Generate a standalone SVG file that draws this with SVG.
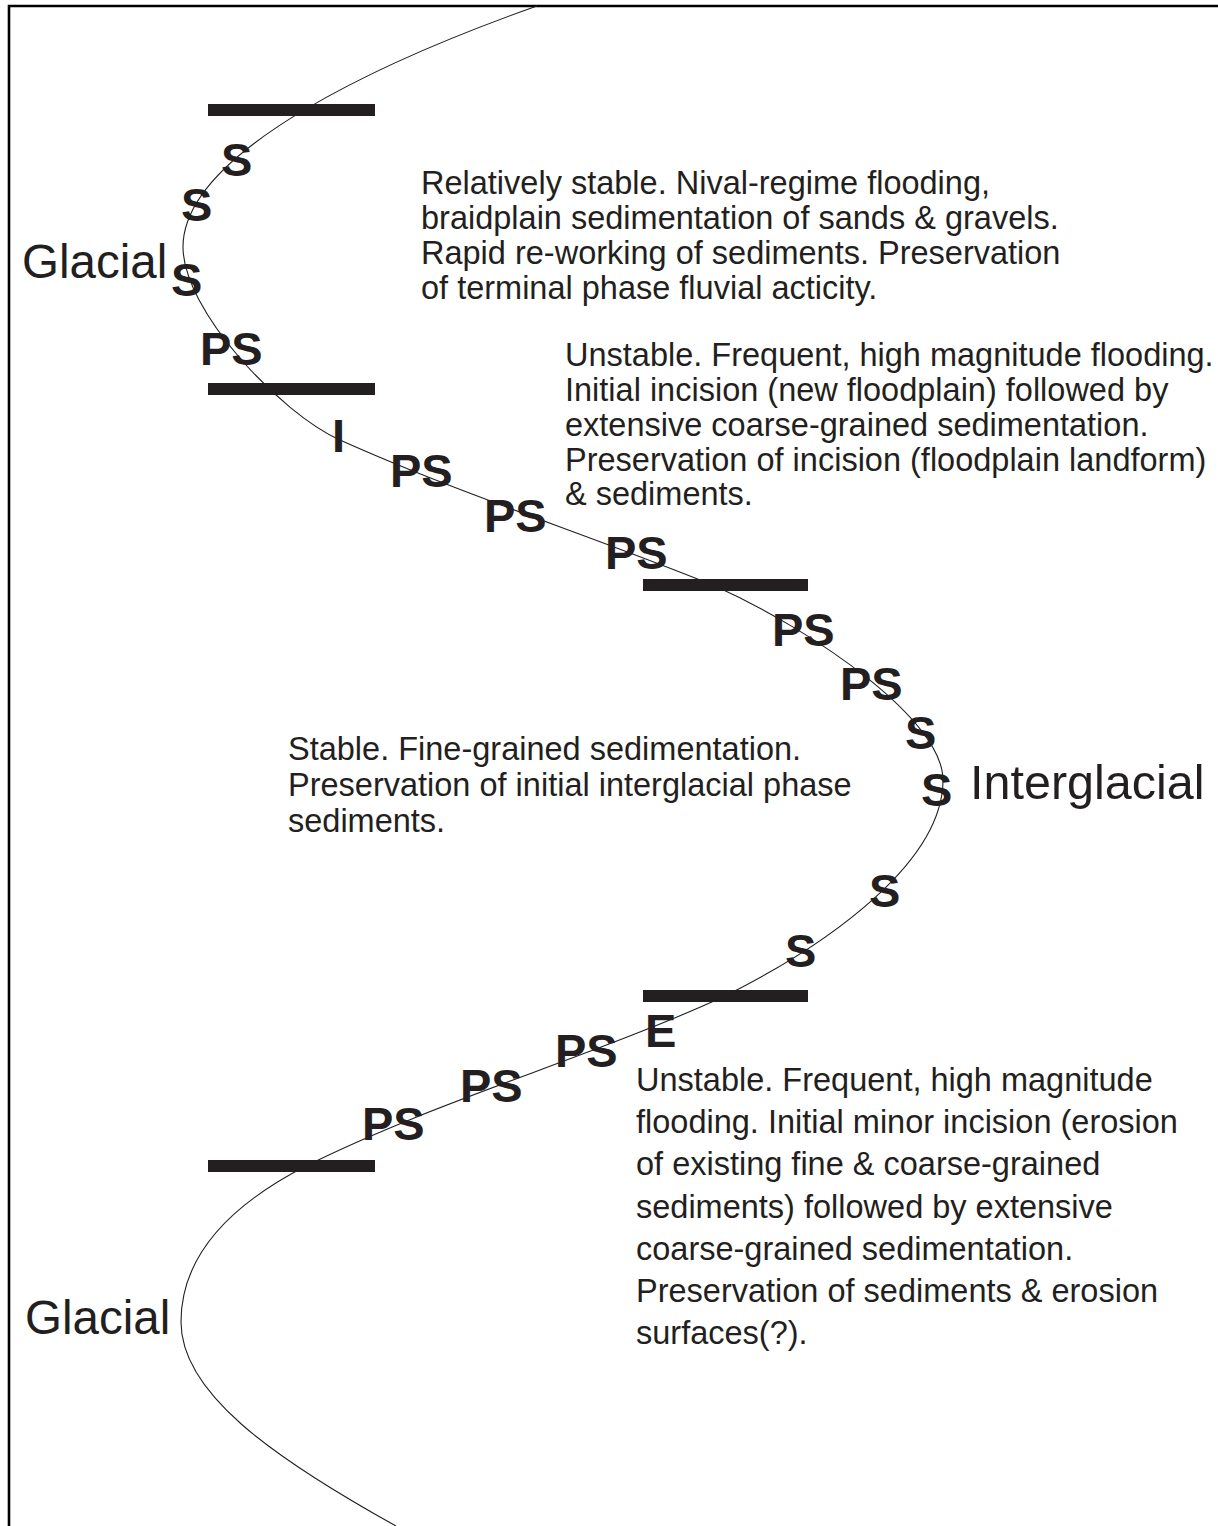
<svg xmlns="http://www.w3.org/2000/svg" width="1218" height="1526" viewBox="0 0 1218 1526">
<style>
.body{font-family:"Liberation Sans",Arial,sans-serif;font-size:32.5px;fill:#231f20}
.big{font-family:"Liberation Sans",Arial,sans-serif;font-size:47.5px;fill:#231f20}
.lab{font-family:"Liberation Sans",Arial,sans-serif;font-size:47px;font-weight:bold;fill:#231f20}
.bar{fill:#231f20}
</style>
<rect width="1218" height="1526" fill="#ffffff"/>
<path id="frame" d="M9,1526 V6 H1218" fill="none" stroke="#000" stroke-width="2.6"/>
<g id="connectors">
<path id="curve" d="M537,6 C390,58 183,150 183,247 C183,310 280,413 340,440 C460,494 595,537 715,586 C815,631 943,720 943,780 C943,860 835,941 725,996 C595,1056 436,1101 306,1166 C236,1202 181,1252 181,1322 C181,1392 270,1456 396,1526" fill="none" stroke="#231f20" stroke-width="1.1"/>
</g>
<g id="boundaries">
<rect class="bar" x="208" y="104" width="167" height="12"/>
<rect class="bar" x="208" y="383" width="167" height="12"/>
<rect class="bar" x="643" y="579" width="165" height="12"/>
<rect class="bar" x="643" y="990" width="165" height="12"/>
<rect class="bar" x="208" y="1160" width="167" height="12"/>
</g>
<g id="phases">
<text class="big" x="22" y="278">Glacial</text>
<text class="big" x="970" y="799" style="font-size:48.5px">Interglacial</text>
<text class="big" x="25" y="1334">Glacial</text>
</g>
<g id="labels">
<text class="lab" x="221" y="176">S</text>
<text class="lab" x="181" y="221">S</text>
<text class="lab" x="171" y="296">S</text>
<text class="lab" x="200" y="365">PS</text>
<text class="lab" x="332" y="452">I</text>
<text class="lab" x="390" y="487">PS</text>
<text class="lab" x="484" y="532">PS</text>
<text class="lab" x="605" y="569">PS</text>
<text class="lab" x="772" y="646">PS</text>
<text class="lab" x="840" y="700">PS</text>
<text class="lab" x="905" y="749">S</text>
<text class="lab" x="921" y="806">S</text>
<text class="lab" x="869" y="907">S</text>
<text class="lab" x="785" y="967">S</text>
<text class="lab" x="645" y="1047">E</text>
<text class="lab" x="555" y="1067">PS</text>
<text class="lab" x="460" y="1102">PS</text>
<text class="lab" x="362" y="1140">PS</text>
</g>
<g id="desc-glacial">
<text class="body" x="421" y="194">Relatively stable. Nival-regime flooding,</text>
<text class="body" x="421" y="229">braidplain sedimentation of sands &amp; gravels.</text>
<text class="body" x="421" y="264">Rapid re-working of sediments. Preservation</text>
<text class="body" x="421" y="299">of terminal phase fluvial acticity.</text>
</g>
<g id="desc-transition1">
<text class="body" x="565" y="366">Unstable. Frequent, high magnitude flooding.</text>
<text class="body" x="565" y="401">Initial incision (new floodplain) followed by</text>
<text class="body" x="565" y="436">extensive coarse-grained sedimentation.</text>
<text class="body" x="565" y="471">Preservation of incision (floodplain landform)</text>
<text class="body" x="565" y="505">&amp; sediments.</text>
</g>
<g id="desc-interglacial">
<text class="body" x="288" y="760">Stable. Fine-grained sedimentation.</text>
<text class="body" x="288" y="796">Preservation of initial interglacial phase</text>
<text class="body" x="288" y="832">sediments.</text>
</g>
<g id="desc-transition2">
<text class="body" x="636" y="1091">Unstable. Frequent, high magnitude</text>
<text class="body" x="636" y="1133">flooding. Initial minor incision (erosion</text>
<text class="body" x="636" y="1175">of existing fine &amp; coarse-grained</text>
<text class="body" x="636" y="1218">sediments) followed by extensive</text>
<text class="body" x="636" y="1260">coarse-grained sedimentation.</text>
<text class="body" x="636" y="1302">Preservation of sediments &amp; erosion</text>
<text class="body" x="636" y="1344">surfaces(?).</text>
</g>
</svg>
